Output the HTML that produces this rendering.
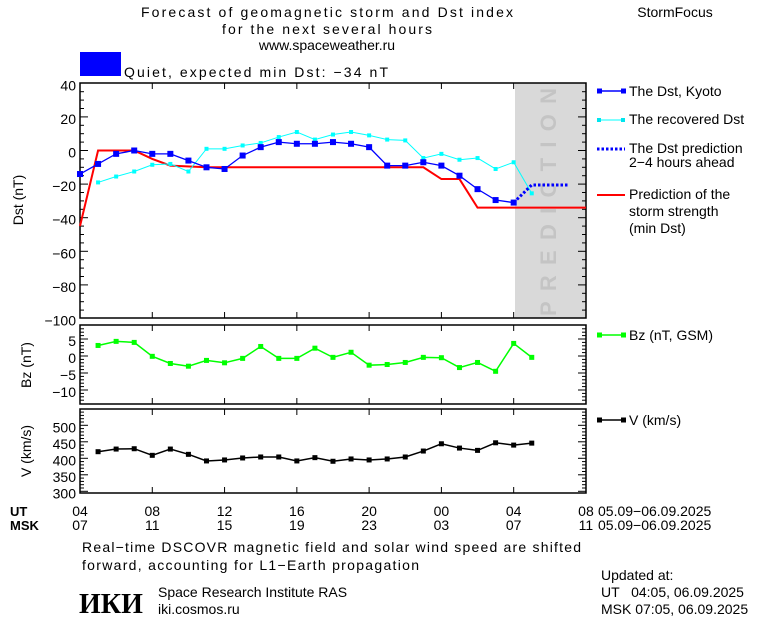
<!DOCTYPE html>
<html><head><meta charset="utf-8"><style>
html,body{margin:0;padding:0;background:#fff;}
svg{display:block;font-family:"Liberation Sans",sans-serif;}
text{font-size:14px;fill:#000;white-space:pre;}
</style></head><body>
<svg id="c" width="760" height="620" viewBox="0 0 760 620" xmlns="http://www.w3.org/2000/svg">
<g>
<text x="327" y="17" text-anchor="middle" textLength="372">Forecast of geomagnetic storm and Dst index</text>
<text x="327" y="34" text-anchor="middle" textLength="210">for the next several hours</text>
<text x="327" y="50" text-anchor="middle">www.spaceweather.ru</text>
<text x="675" y="17" text-anchor="middle">StormFocus</text>
</g>
<rect x="80" y="52" width="41" height="24" fill="#0000ff"/>
<text x="124" y="77" textLength="264">Quiet, expected min Dst: −34 nT</text>
<rect x="515" y="83" width="71" height="235" fill="#d9d9d9"/>
<text transform="translate(556,316) rotate(-90)" style="font-size:22px;fill:#c4c4c4;font-weight:bold" textLength="228">PREDICTION</text>
<g id="axes"></g>
<g id="marks"></g>
<g>
<line x1="597" y1="91" x2="625" y2="91" stroke="#0000ff" stroke-width="1.5"/>
<rect x="597" y="88.5" width="5" height="5" fill="#0000ff"/><rect x="621" y="88.5" width="5" height="5" fill="#0000ff"/>
<text x="629" y="96">The Dst, Kyoto</text>
<line x1="597" y1="120" x2="625" y2="120" stroke="#00ffff" stroke-width="1"/>
<rect x="597" y="118" width="4" height="4" fill="#00e5ee"/><rect x="621" y="118" width="4" height="4" fill="#00e5ee"/>
<text x="629" y="124">The recovered Dst</text>
<line x1="597" y1="149" x2="625" y2="149" stroke="#0000ff" stroke-width="3" stroke-dasharray="2.5,2"/>
<text x="629" y="153">The Dst prediction</text>
<text x="629" y="167">2−4 hours ahead</text>
<line x1="597" y1="195" x2="625" y2="195" stroke="#ff0000" stroke-width="2"/>
<text x="629" y="199">Prediction of the</text>
<text x="629" y="216">storm strength</text>
<text x="629" y="233">(min Dst)</text>
<line x1="597" y1="335" x2="625" y2="335" stroke="#00ff00" stroke-width="1.5"/>
<rect x="597" y="332.5" width="5" height="5" fill="#00ff00"/><rect x="621" y="332.5" width="5" height="5" fill="#00ff00"/>
<text x="629" y="340">Bz (nT, GSM)</text>
<line x1="597" y1="420" x2="625" y2="420" stroke="#000" stroke-width="1.5"/>
<rect x="597" y="417.5" width="5" height="5" fill="#000"/><rect x="621" y="417.5" width="5" height="5" fill="#000"/>
<text x="629" y="425">V (km/s)</text>
</g>
<text transform="translate(23,200) rotate(-90)" text-anchor="middle">Dst (nT)</text>
<text transform="translate(31,365) rotate(-90)" text-anchor="middle">Bz (nT)</text>
<text transform="translate(31,451) rotate(-90)" text-anchor="middle">V (km/s)</text>
<text x="10" y="516" style="font-weight:bold;font-size:13px">UT</text>
<text x="10" y="530" style="font-weight:bold;font-size:13px">MSK</text>
<text x="598" y="516">05.09−06.09.2025</text>
<text x="598" y="530">05.09−06.09.2025</text>
<text x="82" y="552" textLength="499">Real−time DSCOVR magnetic field and solar wind speed are shifted</text>
<text x="82" y="570" textLength="337">forward, accounting for L1−Earth propagation</text>
<text x="79" y="613" style="font-family:'Liberation Serif',serif;font-weight:bold;font-size:28px">ИКИ</text>
<text x="158" y="597">Space Research Institute RAS</text>
<text x="158" y="614">iki.cosmos.ru</text>
<text x="601" y="580">Updated at:</text>
<text x="601" y="597">UT   04:05, 06.09.2025</text>
<text x="601" y="614">MSK 07:05, 06.09.2025</text>
</svg>
<script>
const hourTicksUT = ["04","08","12","16","20","00","04","08"];
const hourTicksMSK = ["07","11","15","19","23","03","07","11"];
const dstTicks = [40,20,0,-20,-40,-60,-80,-100];
const bzTicks = [5,0,-5,-10];
const vTicks = [500,450,400,350,300];
const dstKyoto = [-14,-8,-2,0,-2,-2,-6,-10,-11,-3,2,5,4,4,5,4,2,-9,-9,-7,-9,-15,-23,-29.5,-31];
const dstRecovered = [-19,-15.5,-12.5,-8.5,-8,-12.5,1,1,3,4.5,8,11,6.5,9.5,11,9,6.5,6,-4.5,-2,-5.5,-4.5,-11,-7,-25.5];
const dstPredHours = [24,25,27];
const dstPredValues = [-31,-20.5,-20.5];
const stormHours = [0,1,3,4,5,7,19,20,21,22,28];
const stormValues = [-45,0,0,-5,-9,-10,-10,-17,-17,-34,-34];
const bzValues = [3.1,4.3,4,-0.1,-2.2,-3,-1.3,-2,-0.7,2.8,-0.7,-0.7,2.3,-0.4,1.1,-2.7,-2.5,-1.9,-0.4,-0.5,-3.4,-1.9,-4.5,3.7,-0.4];
const vValues = [420,428,429,409,428,412,392,395,401,404,404,392,402,391,398,395,398,404,422,444,431,424,447,440,446];

const NS='http://www.w3.org/2000/svg';
const L=80,R=586;
const xh=h=>L+h*18.07;
const yD=v=>150.5-1.68*v;
const yB=v=>356-3.4*v;
const yV=v=>491.3-0.33*(v-300);
const axes=document.getElementById('axes'), marks=document.getElementById('marks');
function mk(tag,attrs,parent){const e=document.createElementNS(NS,tag);for(const k in attrs)e.setAttribute(k,attrs[k]);parent.appendChild(e);return e;}

const panels=[{t:83,b:318,f:yD,ticks:dstTicks,minor:5,name:'dst-panel'},{t:325,b:404,f:yB,ticks:bzTicks,minor:1,name:'bz-panel'},{t:409,b:493,f:yV,ticks:vTicks,minor:10,name:'v-panel'}];
panels.forEach(p=>{
  const r=mk('rect',{x:L,y:p.t,width:R-L,height:p.b-p.t,fill:'none',stroke:'#000','stroke-width':1.5},axes);
  
  
  const lo=Math.min(...p.ticks)-p.minor*6, hi=Math.max(...p.ticks)+p.minor*6;
  for(let v=Math.ceil(lo/p.minor)*p.minor; v<=hi; v+=p.minor){
    const y=p.f(v); if(y<p.t+1||y>p.b-1) continue;
    const major=p.ticks.includes(v);
    const len=major?8:4;
    mk('line',{x1:L,x2:L+len,y1:y,y2:y,stroke:'#000'},axes);
    mk('line',{x1:R-len,x2:R,y1:y,y2:y,stroke:'#000'},axes);
  }
  p.ticks.forEach(v=>{
    const t=mk('text',{x:L-4,y:p.f(v)+7,'text-anchor':'end'},axes);
    t.textContent=String(v).replace('-','−');
    
    
  });
  hourTicksUT.forEach((_,i)=>{const x=xh(i*4);
    mk('line',{x1:x,x2:x,y1:p.t,y2:p.t+6,stroke:'#000'},axes);
    mk('line',{x1:x,x2:x,y1:p.b-6,y2:p.b,stroke:'#000'},axes);});
});
hourTicksUT.forEach((s,i)=>{
  const t=mk('text',{x:xh(i*4),y:516,'text-anchor':'middle'},axes);t.textContent=s;
  
  
  const m=mk('text',{x:xh(i*4),y:530,'text-anchor':'middle'},axes);m.textContent=hourTicksMSK[i];
  
  
});

function series(hours,vals,f,color,w,ms,name,dash){
  const pts=vals.map((v,i)=>xh(hours[i])+','+f(v)).join(' ');
  const pl=mk('polyline',{points:pts,fill:'none',stroke:color,'stroke-width':w},marks);
  if(dash)pl.setAttribute('stroke-dasharray',dash);
  
  
  if(ms) vals.forEach((v,i)=>{
    const r=mk('rect',{x:xh(hours[i])-ms/2,y:f(v)-ms/2,width:ms,height:ms,fill:color},marks);
    
    
  });
}
const idx=(n,s)=>Array.from({length:n},(_,i)=>i+s);
series(stormHours,stormValues,yD,'#ff0000',2,0,'storm-strength');
series(idx(dstRecovered.length,1),dstRecovered,yD,'#00ffff',1,4,'recovered-dst');
series(idx(dstKyoto.length,0),dstKyoto,yD,'#0000ff',1.3,6,'dst-kyoto');
series(dstPredHours,dstPredValues,yD,'#0000ff',3,0,'dst-prediction','2.5,2');
series(idx(bzValues.length,1),bzValues,yB,'#00ff00',1.5,5,'bz');
series(idx(vValues.length,1),vValues,yV,'#000000',1.5,5,'v');
</script>
</body></html>
